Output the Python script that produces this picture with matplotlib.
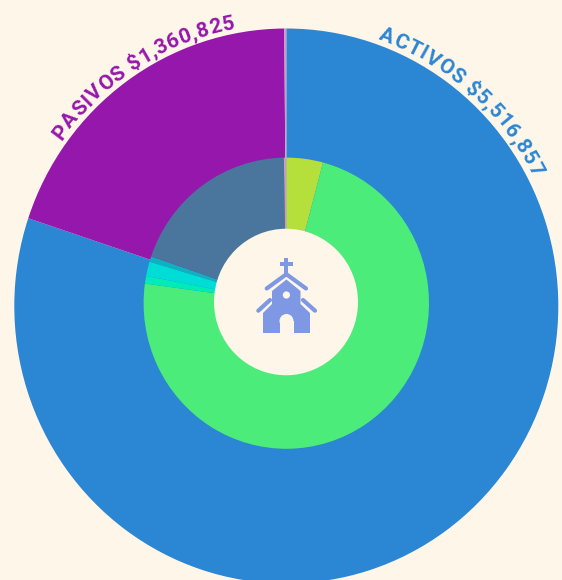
import numpy as np
import matplotlib
matplotlib.use("Agg")
import matplotlib.pyplot as plt
from matplotlib.patches import Polygon, Circle, Rectangle, Ellipse
from matplotlib.textpath import TextPath
from matplotlib.font_manager import FontProperties

# clockwise from 12 o'clock
outer_labels = ["ACTIVOS", "PASIVOS", "PATRIMONIO"]
outer_values = [5516857, 1360825, 8000]
outer_colors = ["#2b86d4", "#9517ab", "#c79ccb"]

inner_values = [285000, 5022000, 58000, 110000, 42000, 1342000, 19000]
inner_colors = ["#b5df3b", "#4bec7a", "#00ebb8", "#00dcd6", "#0fb1c0", "#4a759c", "#c4a2bd"]

curved_labels = ["ACTIVOS $5,516,857", "PASIVOS $1,360,825"]
label_colors = ["#2b86d4", "#9517ab"]
label_starts = [19.3, -54.3]

BG = "#fef6e8"
ICON = "#7e98e3"
W, H = 562, 580
CX, CY, RX, RY = 286.3, 306, 272, 277.5
INNER_CY, INNER_R = 303.2, 142.7

fig = plt.figure(figsize=(W / 100, H / 100), dpi=100, facecolor=BG)
ax = fig.add_axes([0, 0, 1, 1])
ax.set_facecolor(BG)
wp = dict(linewidth=0)
ax.pie(outer_values, radius=1, colors=outer_colors, startangle=90, counterclock=False,
       wedgeprops=wp)
ax.pie(inner_values, radius=INNER_R / RX, center=(0, (CY - INNER_CY) / RY),
       colors=inner_colors, startangle=90, counterclock=False, wedgeprops=wp)
ax.set_aspect("auto")
ax.set_xlim(-CX / RX, (W - CX) / RX)
ax.set_ylim(-(H - CY) / RY, CY / RY)
ax.axis("off")

# pixel overlay for centre hole, curved labels and icon
ov = fig.add_axes([0, 0, 1, 1], facecolor="none")
ov.set_xlim(0, W)
ov.set_ylim(H, 0)
ov.axis("off")
ov.add_patch(Ellipse((286, 302), 144, 146.5, color=BG, lw=0))

fs = 15
tracking = 1.068
fp = FontProperties(family="Roboto", weight="bold", size=fs)


def advance(s):
    return TextPath((0, 0), s + "|", prop=fp).get_extents().x1 * 100 / 72


for text, col, start in zip(curved_labels, label_colors, label_starts):
    R = 277.0
    bar = advance("")
    for i, ch in enumerate(text):
        x0 = advance(text[:i]) - bar
        x1 = advance(text[:i + 1]) - bar
        mid = (x0 + x1) / 2 * tracking
        a = np.radians(start) + mid / R
        px = CX + R * np.sin(a)
        py = CY - R * np.cos(a) * RY / RX
        ov.text(px, py, ch, color=col, fontproperties=fp, rotation=-np.degrees(a),
                rotation_mode="anchor", ha="center", va="baseline")

# church icon
ic = dict(color=ICON, lw=0)
ov.add_patch(Rectangle((284.4, 257.5), 4, 19, **ic))
ov.add_patch(Rectangle((280, 261.7), 12.8, 4, **ic))
for pts in ([(266.7, 288.5), (286.4, 274.2), (306, 288.5)],
            [(258.3, 310.7), (270, 300)],
            [(315, 310.7), (303, 300)]):
    xs, ys = zip(*pts)
    ov.plot(xs, ys, color=ICON, lw=3.0, solid_capstyle="round", solid_joinstyle="miter")
ov.add_patch(Polygon([(263, 313), (272, 304), (272, 291), (286.4, 279.5), (300.5, 291),
                      (300.5, 304), (310, 313), (310, 333), (263, 333)], closed=True, **ic))
bg = dict(color=BG, lw=0)
ov.add_patch(Rectangle((279.5, 321), 14, 12.5, **bg))
ov.add_patch(Circle((286.5, 321), 7, **bg))
ov.add_patch(Circle((286.4, 295), 3.6, **bg))

fig.savefig("out.png", dpi=100, facecolor=BG)
